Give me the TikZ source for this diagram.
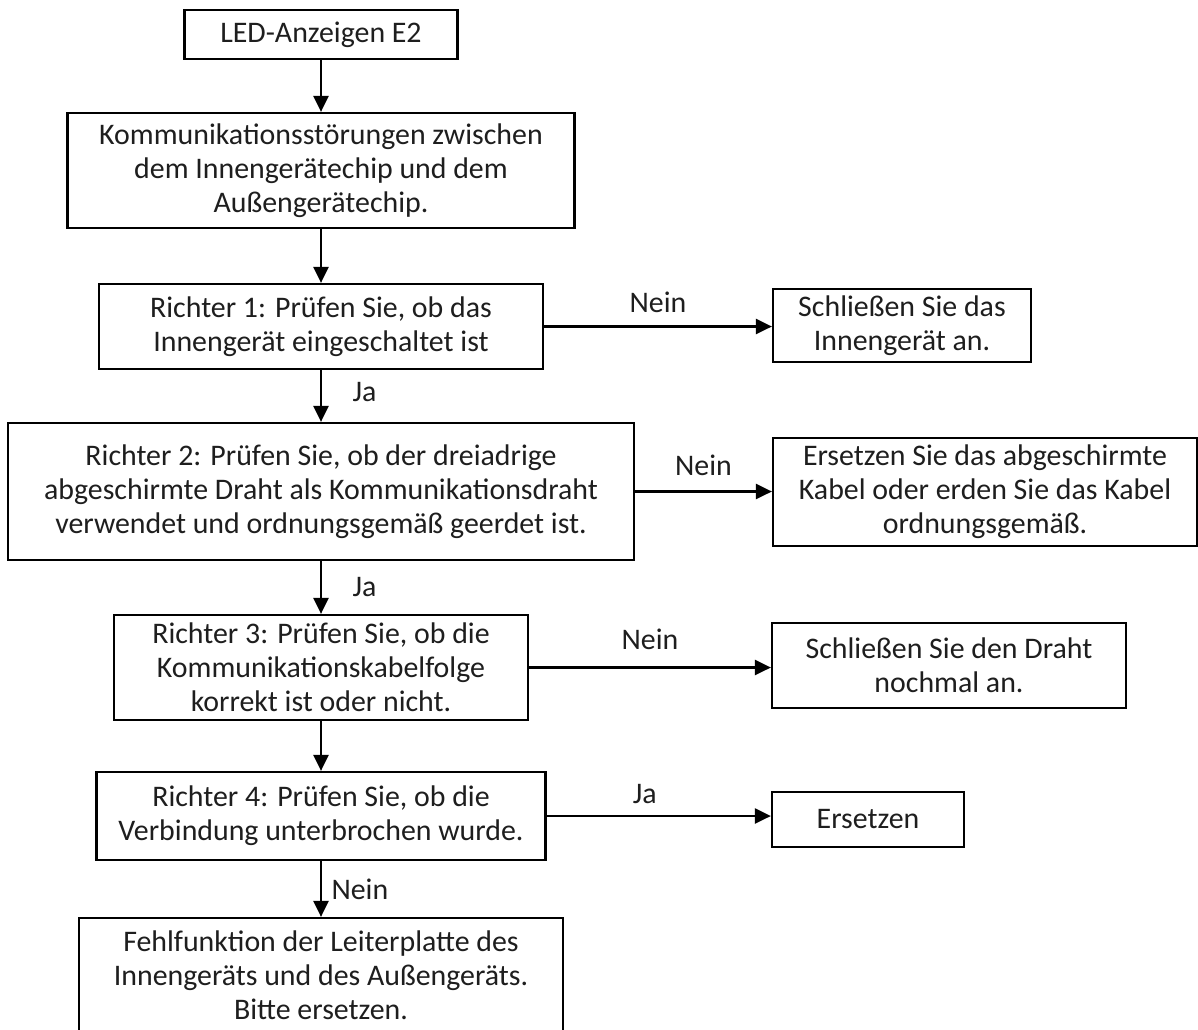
\documentclass[tikz,border=0pt]{standalone}
\usepackage{fontspec}
\setmainfont{Carlito}
\usepackage{tikz}
\usetikzlibrary{arrows.meta,positioning}
\definecolor{inkgray}{RGB}{30,30,30}

\begin{document}
\begin{tikzpicture}[
    x=0.02cm, y=-0.02cm,
    font=\fontsize{17}{19.4}\selectfont,
    >={Triangle[length=0.32cm,width=0.30cm]},
    box/.style={draw=black, line width=1.3pt, fill=white, align=center, inner sep=0pt, text=inkgray},
    flow/.style={->, line width=1.3pt, draw=black},
    lbl/.style={font=\fontsize{17}{19.4}\selectfont, text=inkgray}
]

% Page frame
\useasboundingbox (0,0) rectangle (1198,1029);

% Main column
\node[box, minimum width=5.46cm, minimum height=0.98cm] (led) at (321,34.5) {LED-Anzeigen E2};
\node[box, minimum width=10.14cm, minimum height=2.30cm] (stoer) at (321,170.5)
    {Kommunikationsstörungen zwischen\\dem Innengerätechip und dem\\Außengerätechip.};
\node[box, minimum width=8.88cm, minimum height=1.70cm] (r1) at (321,326.5)
    {Richter 1: Prüfen Sie, ob das\\Innengerät eingeschaltet ist};
\node[box, minimum width=12.52cm, minimum height=2.74cm] (r2) at (321,491.5)
    {Richter 2: Prüfen Sie, ob der dreiadrige\\abgeschirmte Draht als Kommunikationsdraht\\verwendet und ordnungsgemäß geerdet ist.};
\node[box, minimum width=8.28cm, minimum height=2.10cm] (r3) at (321,667.5)
    {Richter 3: Prüfen Sie, ob die\\Kommunikationskabelfolge\\korrekt ist oder nicht.};
\node[box, minimum width=8.98cm, minimum height=1.76cm] (r4) at (321,816)
    {Richter 4: Prüfen Sie, ob die\\Verbindung unterbrochen wurde.};
\node[box, minimum width=9.68cm, minimum height=2.28cm] (fehl) at (321,975)
    {Fehlfunktion der Leiterplatte des\\Innengeräts und des Außengeräts.\\Bitte ersetzen.};

% Remedies
\node[box, minimum width=5.16cm, minimum height=1.46cm] (n1) at (902,325.5)
    {Schließen Sie das\\Innengerät an.};
\node[box, minimum width=8.48cm, minimum height=2.16cm] (n2) at (985,492)
    {Ersetzen Sie das abgeschirmte\\Kabel oder erden Sie das Kabel\\ordnungsgemäß.};
\node[box, minimum width=7.08cm, minimum height=1.70cm] (n3) at (949,665.5)
    {Schließen Sie den Draht\\nochmal an.};
\node[box, minimum width=3.84cm, minimum height=1.10cm] (j4) at (868,819.5) {Ersetzen};

% Vertical flow
\draw[flow] (led) -- (stoer);
\draw[flow] (stoer) -- (r1);
\draw[flow] (r1) -- node[lbl, right=14pt, midway, yshift=2pt] {Ja} (r2);
\draw[flow] (r2) -- node[lbl, right=14pt, midway] {Ja} (r3);
\draw[flow] (r3) -- (r4);
\draw[flow] (r4) -- node[lbl, right=2pt, midway] {Nein} (fehl);

% Side branches
\draw[flow] (r1.east) -- node[lbl, above=4pt, midway] {Nein} (r1.east -| n1.west);
\draw[flow] (r2.east) -- node[lbl, above=5pt, midway] {Nein} (r2.east -| n2.west);
\draw[flow] (r3.east) -- node[lbl, above=6pt, midway] {Nein} (r3.east -| n3.west);
\draw[flow] (r4.east) -- node[lbl, above=3pt, midway, xshift=-8pt] {Ja} (r4.east -| j4.west);

\end{tikzpicture}
\end{document}
